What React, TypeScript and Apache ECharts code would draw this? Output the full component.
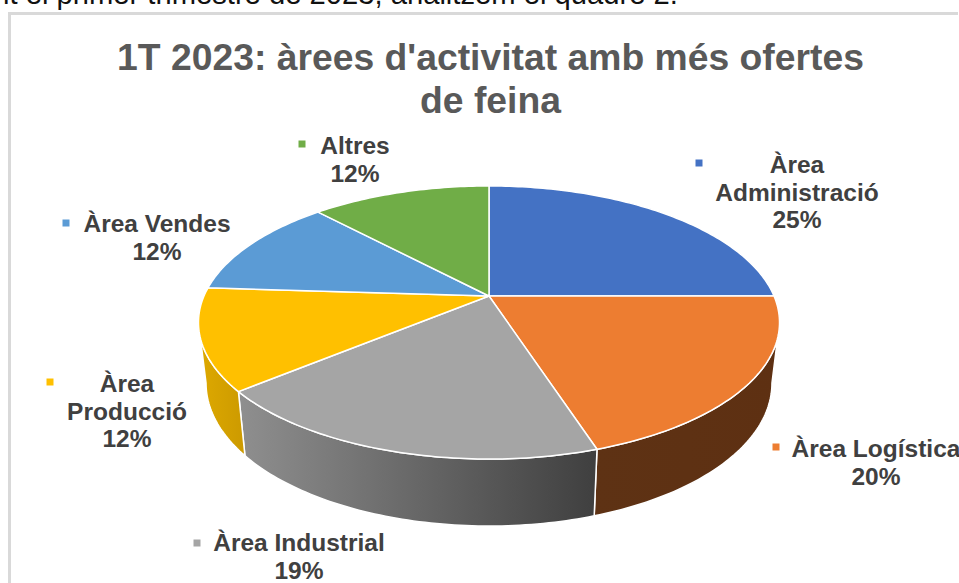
import React, { useEffect, useRef } from "react";
import * as echarts from "echarts";

const titleText = "1T 2023: àrees d'activitat amb més ofertes\nde feina";
const captionText = "it el primer trimestre de 2023, analitzem el quadre 2.";
const categories = ["Àrea\nAdministració", "Àrea Logística", "Àrea Industrial", "Àrea\nProducció", "Àrea Vendes", "Altres"];
const values = [25, 20, 19, 12, 12, 12];
const colors = ["#4472C4", "#ED7D31", "#A5A5A5", "#FFC000", "#5B9BD5", "#70AD47"];

// label layout: text centre x, first line centre y, marker centre x, marker centre y
const labelLayout = [
  [797, 165, 699, 163],
  [876, 449, 776, 447],
  [299, 543, 197, 543],
  [127, 384, 50, 382],
  [157, 224, 66, 223],
  [355, 146, 302, 144],
];

// Perspective projection of the pie disc
const CX = 489, CY = 296, A = 285, B = 131.4, K = 0.194;
const project = (deg: number): [number, number, number] => {
  const t = (deg * Math.PI) / 180;
  const u = Math.sin(t), v = -Math.cos(t), w = 1 - K * v;
  return [CX + (A * u) / w, CY + (B * v) / w, v];
};
const lower = (deg: number): [number, number] => {
  const [x, y, v] = project(deg);
  return [CX + (x - CX) * 0.974, y + 59 + 8 * v];
};
const total = values.reduce((a, b) => a + b, 0);
const cumulative = (i: number) => (values.slice(0, i).reduce((a, b) => a + b, 0) / total) * 360;
const arc = (a: number, b: number, f: (d: number) => number[]) => {
  const n = Math.max(2, Math.ceil(Math.abs(b - a)));
  const pts: number[][] = [];
  for (let i = 0; i <= n; i++) {
    const p = f(a + ((b - a) * i) / n);
    pts.push([p[0], p[1]]);
  }
  return pts;
};
let leftDeg = 270, rightDeg = 90;
for (let d = 0; d < 360; d += 0.25) {
  if (project(d)[0] > project(rightDeg)[0]) rightDeg = d;
  if (project(d)[0] < project(leftDeg)[0]) leftDeg = d;
}

const sideFills: any[] = [
  "#2f4a80",
  { type: "linear", x: 0, y: 0, x2: 1, y2: 0, colorStops: [{ offset: 0, color: "#5E3214" }, { offset: 1, color: "#5E3012" }] },
  { type: "linear", x: 0, y: 0, x2: 1, y2: 0, colorStops: [{ offset: 0, color: "#8F8F8F" }, { offset: 1, color: "#3F3F3F" }] },
  { type: "linear", x: 0, y: 0, x2: 1, y2: 0, colorStops: [{ offset: 0, color: "#DEA900" }, { offset: 1, color: "#CC9A00" }] },
  "#3b6ea0",
  "#4d7a30",
];

const renderSide = (params: any) => {
  const i = params.dataIndex;
  const a = Math.max(cumulative(i), rightDeg);
  const b = Math.min(cumulative(i + 1), leftDeg);
  if (b <= a) return { type: "group", children: [] };
  const points = [...arc(a, b, project), ...arc(b, a, lower)];
  return {
    type: "polygon",
    shape: { points },
    style: { fill: sideFills[i], stroke: "#ffffff", lineWidth: 1.5, lineJoin: "round" },
  };
};
const renderTop = (params: any, api: any) => {
  const i = params.dataIndex;
  const points = [[CX, CY], ...arc(cumulative(i), cumulative(i + 1), project)];
  return {
    type: "polygon",
    shape: { points },
    style: { fill: api.visual("color"), stroke: "#ffffff", lineWidth: 1.5, lineJoin: "round" },
  };
};

const FONT = '"Liberation Sans", Arial, sans-serif';

export default function App() {
  const ref = useRef<HTMLDivElement>(null);
  useEffect(() => {
    const chart = echarts.init(ref.current!, undefined, { renderer: "svg" });
    const seriesData = values.map((value, i) => ({ name: categories[i].replace("\n", " "), value, itemStyle: { color: colors[i] } }));
    const graphicEls: any[] = [
      { type: "line", silent: true, shape: { x1: 8, y1: 13.5, x2: 958, y2: 13.5 }, style: { stroke: "#d9d9d9", lineWidth: 3 } },
      { type: "line", silent: true, shape: { x1: 9.5, y1: 12, x2: 9.5, y2: 583 }, style: { stroke: "#d9d9d9", lineWidth: 3 } },
      {
        type: "text", silent: true, x: 3, y: -21,
        style: { text: captionText, font: `29.2px ${FONT}`, fill: "#111111", textAlign: "left", textVerticalAlign: "top" },
      },
    ];
    categories.forEach((c, i) => {
      const [tx, ty, mx, my] = labelLayout[i];
      graphicEls.push({
        type: "rect", silent: true,
        shape: { x: mx - 3.5, y: my - 3.5, width: 7, height: 7 },
        style: { fill: colors[i] },
      });
      graphicEls.push({
        type: "text", silent: true, x: tx, y: ty - 14,
        style: {
          text: `${c}\n${values[i]}%`,
          font: `bold 24.5px ${FONT}`,
          fill: "#404040",
          textAlign: "center",
          textVerticalAlign: "top",
          lineHeight: 27.5,
        },
      });
    });
    chart.setOption({
      animation: false,
      backgroundColor: "#ffffff",
      title: {
        text: titleText,
        left: 485.5,
        top: 30,
        textAlign: "center",
        textStyle: { fontFamily: FONT, fontWeight: "bold", fontSize: 37.3, color: "#595959", lineHeight: 43 },
      },
      graphic: graphicEls,
      series: [
        { type: "custom", coordinateSystem: "none", renderItem: renderSide, data: seriesData, z: 2, silent: true },
        { type: "custom", coordinateSystem: "none", renderItem: renderTop, data: seriesData, z: 3, silent: true },
      ],
    });
    return () => chart.dispose();
  }, []);
  return <div ref={ref} style={{ position: "fixed", left: 0, top: 0, width: 959, height: 583 }} />;
}
